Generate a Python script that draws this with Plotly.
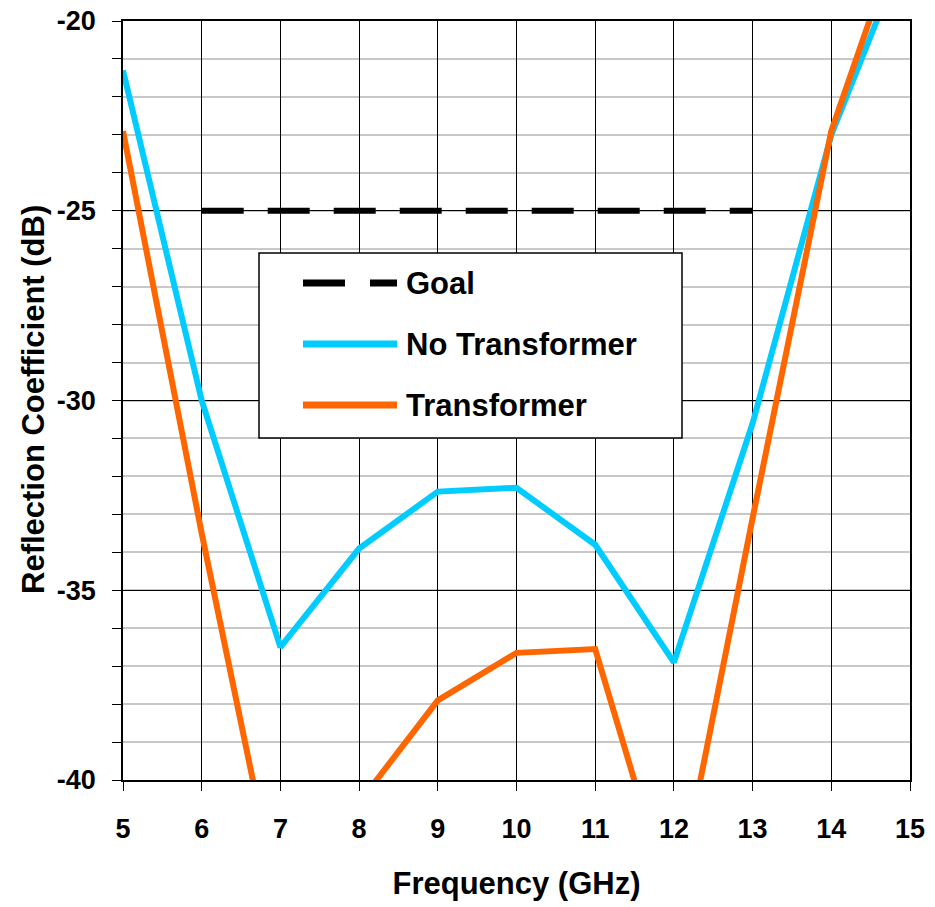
import plotly.graph_objects as go

# ---- data ----
freq_ghz = [5, 6, 7, 8, 9, 10, 11, 12, 13, 14, 15]
no_transformer_db = [-21.3, -30.0, -36.5, -33.9, -32.4, -32.3, -33.8, -36.9, -30.6, -23.0, -17.8]
transformer_db = [-22.9, -33.5, -43.5, -40.6, -37.9, -36.65, -36.55, -43.5, -33.1, -22.9, -16.9]
goal_freq_ghz = [6, 13]
goal_db = [-25, -25]
series_names = ["Goal", "No Transformer", "Transformer"]
x_tick_vals = [5, 6, 7, 8, 9, 10, 11, 12, 13, 14, 15]
y_tick_vals = [-40, -35, -30, -25, -20]
y_tick_text = ["-40", "-35", "-30", "-25", "-20"]
x_title = "Frequency (GHz)"
y_title = "Reflection Coefficient (dB)"

CYAN = "#00CCFF"
ORANGE = "#FF6600"
FONT = "Liberation Sans, Arial, sans-serif"

fig = go.Figure()
fig.add_trace(go.Scatter(x=goal_freq_ghz, y=goal_db, mode="lines", name=series_names[0],
                         line=dict(color="black", width=6, dash="42px,24px")))
fig.add_trace(go.Scatter(x=freq_ghz, y=no_transformer_db, mode="lines", name=series_names[1],
                         line=dict(color=CYAN, width=6)))
fig.add_trace(go.Scatter(x=freq_ghz, y=transformer_db, mode="lines", name=series_names[2],
                         line=dict(color=ORANGE, width=6)))

# plot area in window pixels: x 123..910, y 21..780 (page body margin removed below)
L, R, T, B = 123, 910, 21, 780
W, H = 935, 907


def px(xp):
    return (xp - L) / (R - L)


def py(yp):
    return (B - yp) / (B - T)


# manual legend box
shapes = [dict(type="rect", xref="paper", yref="paper", x0=px(259), x1=px(682), y0=py(438), y1=py(253),
               line=dict(color="black", width=1.5), fillcolor="white", layer="above")]
legend_styles = [
    dict(color="black", width=7, dash="42px,25px"),
    dict(color=CYAN, width=7),
    dict(color=ORANGE, width=7),
]
legend_rows = [283, 344, 405]
annotations = []
for name, style, row in zip(series_names, legend_styles, legend_rows):
    shapes.append(dict(type="line", xref="paper", yref="paper", x0=px(303), x1=px(397), y0=py(row), y1=py(row),
                       line=style, layer="above"))
    annotations.append(dict(text=name, xref="paper", yref="paper", x=px(404), y=py(row), xanchor="left",
                            yanchor="middle", showarrow=False,
                            font=dict(family=FONT, size=31, color="black", weight="bold")))

# y axis title as rotated text
annotations.append(dict(text=y_title, xref="paper", yref="paper", x=px(33), y=py(400), xanchor="center",
                        yanchor="middle", textangle=-90, showarrow=False,
                        font=dict(family=FONT, size=31, color="black", weight="bold")))

fig.update_layout(
    width=W, height=H,
    margin=dict(l=L, r=W - R, t=T, b=H - B, autoexpand=False),
    paper_bgcolor="white", plot_bgcolor="white",
    showlegend=False,
    shapes=shapes, annotations=annotations,
    font=dict(family=FONT, color="black"),
)
fig.update_xaxes(
    range=[5, 15], tickvals=x_tick_vals, showgrid=True, gridcolor="black", gridwidth=1,
    ticks="outside", ticklen=9, tickcolor="black", tickwidth=1, ticklabelstandoff=15,
    ticklabeloverflow="allow",
    showline=True, linecolor="black", linewidth=1.5, mirror=True, zeroline=False,
    tickfont=dict(family=FONT, size=27, color="black", weight="bold"),
    title=dict(text=x_title, font=dict(family=FONT, size=31, color="black", weight="bold"), standoff=29),
    automargin=False,
)
fig.update_yaxes(
    range=[-40, -20], tickvals=y_tick_vals, ticktext=y_tick_text, showgrid=True, gridcolor="black", gridwidth=1,
    ticks="outside", ticklen=9, tickcolor="black", tickwidth=1, ticklabelstandoff=11,
    ticklabeloverflow="allow",
    showline=True, linecolor="black", linewidth=1.5, mirror=True, zeroline=False,
    minor=dict(dtick=1, showgrid=True, gridcolor="#c8c8c8", gridwidth=1.5, ticks="outside", ticklen=9,
               tickcolor="black"),
    tickfont=dict(family=FONT, size=27, color="black", weight="bold"),
    automargin=False,
)

fig.write_html("out.html", config={"displayModeBar": False},
               post_script="document.body.style.margin='0';")
